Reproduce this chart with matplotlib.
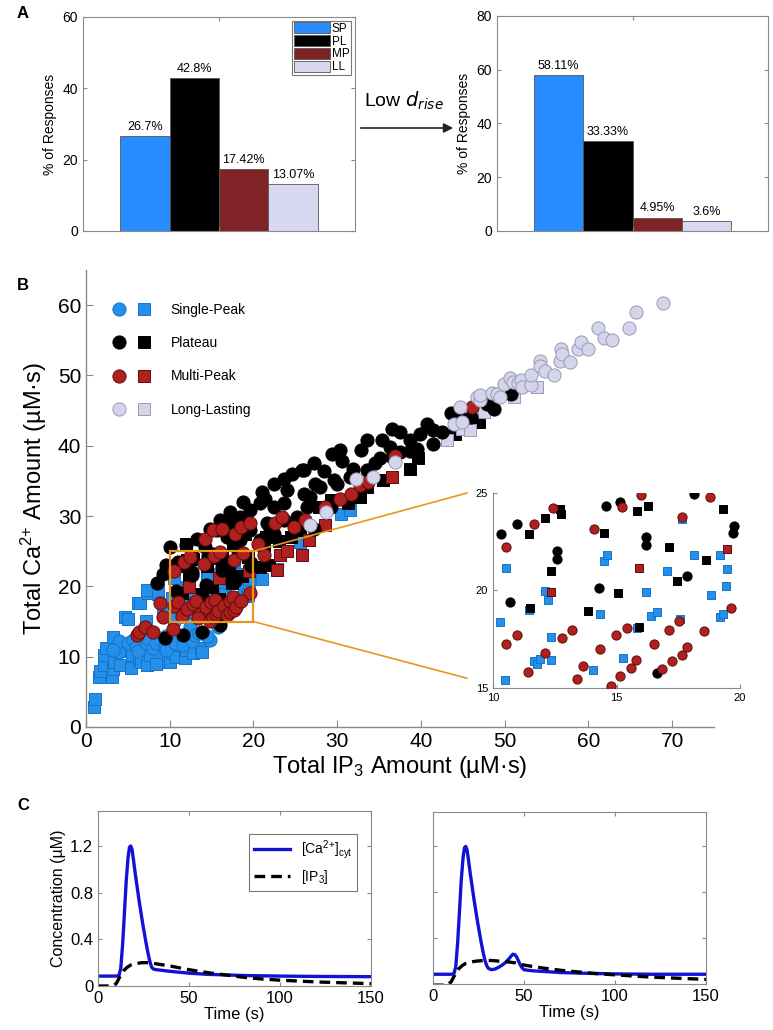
import numpy as np
import matplotlib
matplotlib.use('Agg')
import matplotlib.pyplot as plt
from matplotlib.lines import Line2D
from matplotlib.patches import Patch, Rectangle, ConnectionPatch
from matplotlib.legend_handler import HandlerTuple

plt.rcParams['font.family'] = ['Liberation Sans', 'DejaVu Sans']
plt.rcParams['mathtext.default'] = 'regular'

# ---------------- Panel A data ----------------
categories = ['SP', 'PL', 'MP', 'LL']
pct_before = [26.7, 42.8, 17.42, 13.07]
pct_after = [58.11, 33.33, 4.95, 3.6]
labels_before = ['26.7%', '42.8%', '17.42%', '13.07%']
labels_after = ['58.11%', '33.33%', '4.95%', '3.6%']

# ---------------- Panel B data (x = IP3, y = Ca) ----------------
sp_circles = [(4.0, 10.7), (4.0, 12.3), (5.0, 12.0), (5.6, 12.4), (6.0, 11.4), (6.2, 10.8),
              (7.2, 12.0), (7.3, 12.6), (8.0, 11.3), (8.4, 12.0), (9.4, 11.8), (9.6, 10.9),
              (9.6, 13.0), (10.6, 12.0), (11.6, 12.5), (11.6, 11.6), (12.4, 14.2), (12.7, 12.3),
              (13.0, 13.1), (13.5, 13.4), (14.8, 12.4), (15.8, 14.2), (14.4, 13.0), (3.2, 10.9)]
sp_squares = [(0.9, 2.9), (1.1, 4.0), (1.6, 7.1), (1.7, 7.9), (2.1, 8.8), (2.2, 10.3), (2.4, 11.3),
              (3.1, 7.1), (3.2, 8.2), (3.3, 9.3), (3.2, 12.8), (4.1, 8.8), (4.0, 10.8), (4.7, 15.7),
              (5.0, 15.3), (5.4, 8.4), (5.5, 10.3), (6.2, 17.7), (6.3, 9.5), (6.5, 17.6), (6.6, 9.2),
              (7.2, 15.1), (7.3, 8.8), (7.4, 19.1), (7.3, 19.5), (7.7, 10.2), (8.4, 9.0), (8.6, 19.8),
              (8.6, 18.9), (8.8, 10.7), (9.2, 17.0), (9.8, 9.3), (10.0, 9.2), (10.4, 10.7), (10.8, 9.9),
              (11.8, 9.8), (12.0, 10.9), (12.8, 10.5), (13.7, 11.3), (13.9, 10.6), (21.0, 21.0),
              (22.8, 22.5), (25.6, 26.3), (30.5, 30.3), (31.5, 30.8),
              (10.53, 21.17), (10.28, 18.39), (10.48, 15.39), (12.10, 19.97), (12.24, 19.50),
              (11.44, 19.02), (12.36, 17.59), (11.67, 16.40), (11.79, 16.24), (11.89, 16.50),
              (12.35, 16.43), (14.35, 18.82), (14.49, 21.49), (14.62, 21.80), (16.19, 19.94),
              (15.85, 18.08), (15.26, 16.55), (14.03, 15.92), (16.39, 18.68), (16.64, 18.90),
              (17.05, 21.00), (17.59, 18.53), (17.64, 23.65), (18.13, 21.80), (18.83, 19.79),
              (19.18, 21.80), (19.43, 20.25), (19.47, 21.12), (19.20, 18.63), (19.33, 18.78)]
pl_circles = [(9.4, 12.6), (11.6, 13.1), (13.8, 13.5), (16.0, 14.5), (8.5, 20.5), (9.2, 21.8),
              (9.6, 23.0), (10.0, 25.6), (12.0, 25.9), (13.2, 26.8), (14.2, 25.6), (14.8, 28.2),
              (15.6, 28.0), (16.0, 29.4), (16.8, 27.0), (17.2, 30.6), (17.2, 29.0), (18.4, 29.9),
              (18.4, 26.6), (18.8, 32.0), (19.6, 30.8), (19.6, 28.0), (20.8, 31.8), (20.8, 26.6),
              (21.0, 33.4), (21.4, 32.5), (21.6, 29.0), (22.0, 28.2), (22.4, 34.6), (22.4, 31.3),
              (22.4, 27.5), (23.6, 35.3), (23.6, 31.8), (23.6, 29.4), (24.0, 33.7), (24.6, 36.0),
              (25.2, 29.9), (25.8, 36.5), (26.0, 33.2), (26.0, 36.6), (26.4, 31.3), (26.8, 32.7),
              (27.2, 37.5), (27.2, 28.2), (27.4, 34.6), (28.0, 34.1), (28.4, 36.4), (29.2, 31.3),
              (29.4, 38.9), (29.6, 35.1), (30.0, 34.6), (30.3, 39.4), (30.6, 37.9), (31.5, 35.6),
              (31.9, 36.7), (32.9, 39.4), (33.5, 40.8), (33.5, 36.5), (34.5, 37.5), (35.1, 38.2),
              (35.3, 40.8), (36.3, 39.8), (36.5, 42.4), (36.5, 38.4), (37.5, 41.9), (37.5, 39.1),
              (38.7, 40.8), (38.7, 39.3), (39.5, 39.6), (39.9, 41.7), (40.7, 43.1), (41.5, 42.2),
              (41.5, 40.3), (42.5, 41.9), (43.6, 44.6), (44.6, 44.3), (46.0, 44.1), (47.9, 46.0),
              (48.7, 45.3), (50.7, 47.3),
              (10.32, 22.89), (10.97, 23.43), (10.70, 19.40), (12.61, 22.02), (12.61, 21.64),
              (14.29, 20.14), (14.56, 24.34), (15.16, 24.56), (16.20, 22.72), (16.19, 22.33),
              (17.84, 20.76), (18.13, 24.97), (19.76, 23.31), (19.73, 22.97), (16.64, 15.75)]
pl_squares = [(20.8, 22.8), (21.2, 25.8), (21.8, 23.0), (23.0, 26.5), (24.5, 27.0), (27.8, 31.3),
              (29.2, 32.3), (31.3, 31.8), (32.7, 32.7), (33.5, 34.1), (35.5, 35.1), (38.7, 36.7),
              (39.7, 38.2), (44.1, 41.7), (46.9, 43.4), (19.0, 27.5), (17.5, 26.0), (25.5, 28.0),
              (21.5, 27.0), (12.0, 26.0),
              (11.47, 22.89), (12.09, 23.74), (12.70, 24.17), (12.74, 23.91), (12.35, 20.98),
              (11.48, 19.12), (14.51, 22.96), (13.84, 18.97), (15.05, 19.89), (15.81, 24.08),
              (16.28, 24.32), (17.13, 22.21), (17.43, 20.49), (18.63, 21.54), (19.33, 24.17),
              (15.93, 18.15)]
mp_circles = [(6.1, 13.1), (6.3, 13.5), (7.0, 14.2), (8.0, 13.5), (8.8, 17.6), (9.2, 15.6),
              (10.4, 14.0), (14.2, 26.8), (15.2, 28.0), (16.2, 28.2), (17.8, 27.5), (18.5, 28.5),
              (19.6, 29.0), (20.5, 26.0), (21.2, 24.4), (22.6, 29.0), (23.4, 29.9), (24.8, 28.5),
              (26.1, 29.5), (28.5, 31.3), (30.3, 32.5), (31.7, 33.2), (32.7, 34.4), (33.7, 34.8),
              (36.9, 38.6), (46.1, 45.5),
              (10.53, 22.24), (11.67, 23.42), (12.43, 24.23), (14.07, 23.14), (15.23, 24.27),
              (16.00, 24.91), (17.67, 23.77), (18.80, 24.81), (19.62, 19.12), (10.53, 17.28),
              (10.96, 17.72), (11.43, 15.82), (12.12, 16.81), (12.78, 17.56), (13.19, 17.95),
              (13.64, 16.14), (13.40, 15.46), (14.33, 17.01), (14.77, 15.10), (15.16, 15.60),
              (14.97, 17.71), (15.42, 18.08), (15.58, 16.01), (15.80, 16.43), (16.51, 17.28),
              (16.85, 15.97), (17.25, 16.38), (17.14, 17.98), (17.55, 18.42), (17.67, 16.69),
              (17.87, 17.08), (18.56, 17.93)]
mp_squares = [(22.8, 22.3), (23.2, 24.4), (24.0, 25.1), (25.8, 24.4), (26.6, 26.6), (28.6, 28.8),
              (36.6, 35.6),
              (12.36, 19.92), (15.92, 21.17), (19.46, 22.12)]
ll_circles = [(26.8, 28.7), (28.7, 30.6), (32.3, 35.3), (34.3, 35.6), (36.9, 37.7), (43.9, 43.1),
              (44.7, 45.5), (44.9, 43.4), (46.7, 46.9), (47.1, 46.5), (47.1, 47.2), (48.5, 47.5),
              (49.1, 47.4), (49.5, 47.0), (49.9, 48.8), (50.6, 49.7), (51.0, 49.1), (51.6, 48.9),
              (51.9, 49.4), (52.1, 48.3), (53.1, 48.6), (53.2, 50.1), (54.2, 52.0), (54.2, 51.4),
              (54.8, 50.6), (55.9, 50.0), (56.6, 52.1), (56.7, 53.8), (56.8, 53.1), (57.8, 51.9),
              (58.7, 53.8), (59.1, 54.7), (60.0, 53.8), (61.2, 56.7), (61.9, 55.3), (62.8, 55.1),
              (64.9, 56.7), (65.7, 59.0), (68.9, 60.3)]
ll_squares = [(43.1, 40.8), (44.9, 42.4), (45.9, 42.2), (47.5, 44.8), (51.1, 46.9), (53.9, 48.4)]

# ---------------- Panel C data ----------------
t_ca_left = [0, 10, 11.5, 12.5, 13.5, 14.5, 15.5, 16.5, 17.3, 18, 18.7, 19.5, 20.5, 21.5, 22.5,
             23.5, 24.5, 25.5, 26.5, 27.5, 28.5, 29.5, 30.5, 32, 40, 50, 60, 70, 80, 100, 120, 150]
ca_left = [0.085, 0.085, 0.09, 0.15, 0.35, 0.62, 0.90, 1.10, 1.19, 1.20, 1.17, 1.08, 0.96, 0.85,
           0.74, 0.64, 0.54, 0.45, 0.36, 0.28, 0.21, 0.16, 0.145, 0.14, 0.125, 0.11, 0.10, 0.095,
           0.09, 0.085, 0.082, 0.08]
t_ip3_left = [0, 8, 10, 12, 14, 16, 18, 20, 24, 28, 32, 40, 50, 60, 70, 80, 90, 100, 120, 150]
ip3_left = [0, 0, 0.02, 0.08, 0.13, 0.16, 0.18, 0.19, 0.20, 0.20, 0.19, 0.17, 0.14, 0.115, 0.095,
            0.075, 0.06, 0.05, 0.035, 0.02]
t_ca_right = [0, 10, 11.5, 12.5, 13.5, 14.5, 15.5, 16.5, 17.3, 18, 18.7, 19.5, 20.5, 21.5, 22.5,
              23.5, 24.5, 25.5, 26.5, 27.5, 28.5, 29.5, 30.5, 32, 34, 36, 38, 40, 42, 43, 44, 45,
              46, 47, 48, 49, 50, 52, 55, 60, 70, 80, 100, 120, 150]
ca_right = [0.085, 0.085, 0.09, 0.15, 0.35, 0.62, 0.90, 1.10, 1.19, 1.20, 1.17, 1.08, 0.96, 0.85,
            0.74, 0.64, 0.54, 0.45, 0.36, 0.28, 0.21, 0.16, 0.135, 0.125, 0.13, 0.145, 0.165, 0.19,
            0.225, 0.245, 0.26, 0.255, 0.235, 0.2, 0.165, 0.14, 0.125, 0.12, 0.115, 0.11, 0.1,
            0.095, 0.088, 0.085, 0.085]
t_ip3_right = [0, 8, 10, 12, 14, 16, 18, 20, 24, 28, 32, 36, 40, 45, 50, 60, 70, 80, 90, 100, 120, 150]
ip3_right = [-0.01, -0.01, 0.02, 0.08, 0.13, 0.16, 0.18, 0.19, 0.20, 0.205, 0.205, 0.20, 0.195,
             0.185, 0.165, 0.14, 0.12, 0.105, 0.09, 0.08, 0.06, 0.04]

# ---------------- Styles ----------------
bar_colors = ['#268cff', '#000000', '#7f2327', '#d8d8f0']
c_blue, e_blue = '#2490ea', '#1673cc'
c_red, e_red = '#b0201f', '#5e0c0c'
c_ll, e_ll = '#d4d4ea', '#9a9ab8'
orange = '#e8961e'
spine_gray = '#8a8a8a'

W, H = 773, 1030
fig = plt.figure(figsize=(W / 100, H / 100), dpi=100)


def px_axes(l, t, r, b):
    return fig.add_axes([l / W, 1 - b / H, (r - l) / W, (b - t) / H])


def style_box(ax):
    for s in ax.spines.values():
        s.set_color(spine_gray)
        s.set_linewidth(0.8)
    ax.tick_params(direction='in', top=True, right=True, color=spine_gray, length=3)


# ---------------- Panel A ----------------
xpos = np.arange(1, 5)
for (l, t, r, b), vals, labs, ymax, yt in [((83, 17, 355, 231), pct_before, labels_before, 60, [0, 20, 40, 60]),
                                          ((497, 16, 768, 231), pct_after, labels_after, 80, [0, 20, 40, 60, 80])]:
    ax = px_axes(l, t, r, b)
    ax.bar(xpos, vals, width=1.0, color=bar_colors, edgecolor='#555555', linewidth=0.6)
    for xp, v, lb in zip(xpos, vals, labs):
        ax.text(xp, v + ymax * 0.015, lb, ha='center', va='bottom', fontsize=9)
    ax.set_xlim(-0.25, 5.25)
    ax.set_ylim(0, ymax)
    ax.set_yticks(yt)
    ax.set_xticks([2.5])
    ax.set_xticklabels([''])
    ax.tick_params(labelsize=10)
    ax.set_ylabel('% of Responses', fontsize=10, labelpad=4)
    style_box(ax)
    if ymax == 60:
        handles = [Patch(facecolor=c, edgecolor='#555555', linewidth=0.6) for c in bar_colors]
        leg = ax.legend(handles, categories, loc='upper right', fontsize=8.5, frameon=True,
                        fancybox=False, edgecolor='#555555', borderpad=0.15, labelspacing=0.05,
                        handlelength=3.0, handleheight=1.0, handletextpad=0.2,
                        borderaxespad=0.3)
        leg.get_frame().set_linewidth(0.8)

fig.text(17 / W, 1 - 13 / H, 'A', fontsize=12, fontweight='bold', va='center', ha='left')
fig.text(404 / W, 1 - 100 / H, r'Low $\mathit{d}_{\mathit{rise}}$', fontsize=14, ha='center', va='center')
fig.add_artist(matplotlib.patches.FancyArrowPatch((358 / W, 1 - 128 / H), (456 / W, 1 - 128 / H),
                                                  transform=fig.transFigure, arrowstyle='-|>',
                                                  mutation_scale=14, color='#222222', lw=1.2))

# ---------------- Panel B ----------------
axb = px_axes(86, 270, 714, 727)
axin = px_axes(493, 493, 740, 688)


def draw_scatter(ax, circ_scale, sq_scale):
    groups = [(sp_squares, sp_circles, c_blue, e_blue),
              (pl_squares, pl_circles, 'black', 'black'),
              (mp_squares, mp_circles, c_red, e_red),
              (ll_squares, ll_circles, c_ll, e_ll)]
    for sq, ci, fc, ec in groups:
        sq = np.array(sq)
        ci = np.array(ci)
        ax.scatter(sq[:, 0], sq[:, 1], marker='s', s=sq_scale, c=fc, edgecolors=ec, linewidths=0.7, zorder=2)
        ax.scatter(ci[:, 0], ci[:, 1], marker='o', s=circ_scale, c=fc, edgecolors=ec, linewidths=0.7, zorder=3)


draw_scatter(axb, 90, 70)
axb.set_xlim(0, 75)
axb.set_ylim(0, 65)
axb.set_xticks(np.arange(0, 71, 10))
axb.set_yticks(np.arange(0, 61, 10))
for s in ['top', 'right']:
    axb.spines[s].set_visible(False)
for s in ['left', 'bottom']:
    axb.spines[s].set_color(spine_gray)
    axb.spines[s].set_linewidth(1.0)
axb.tick_params(direction='in', labelsize=15, color=spine_gray, length=5)
axb.set_xlabel('Total IP$_3$ Amount (µM·s)', fontsize=17, labelpad=2)
axb.set_ylabel('Total Ca$^{2{+}}$ Amount (µM·s)', fontsize=17, labelpad=6)
axb.add_patch(Rectangle((10, 15), 10, 10, fill=False, ec=orange, lw=1.6, zorder=5))

leg_handles = []
for fc, ec in [(c_blue, e_blue), ('black', 'black'), (c_red, e_red), (c_ll, e_ll)]:
    leg_handles.append((Line2D([], [], ls='none', marker='o', ms=9.5, mfc=fc, mec=ec, mew=0.7),
                        Line2D([], [], ls='none', marker='s', ms=8, mfc=fc, mec=ec, mew=0.7)))
axb.legend(leg_handles, ['Single-Peak', 'Plateau', 'Multi-Peak', 'Long-Lasting'],
           handler_map={tuple: HandlerTuple(ndivide=None, pad=0.6)},
           loc='upper left', bbox_to_anchor=(0.02, 0.955), frameon=False, fontsize=10,
           labelspacing=1.38, handlelength=3.0, handletextpad=1.3)

draw_scatter(axin, 44, 36)
axin.set_xlim(10, 20)
axin.set_ylim(15, 25)
axin.set_xticks([10, 15, 20])
axin.set_yticks([15, 20, 25])
for s in ['top', 'right']:
    axin.spines[s].set_visible(False)
for s in ['left', 'bottom']:
    axin.spines[s].set_color(spine_gray)
axin.tick_params(direction='in', labelsize=8, color=spine_gray, length=3)
axin.patch.set_alpha(0)

for yb, ya in [(25, 1.0), (15, 0.05)]:
    con = ConnectionPatch(xyA=(20, yb), coordsA=axb.transData, xyB=(-0.105, ya), coordsB=axin.transAxes,
                          color=orange, lw=1.2)
    fig.add_artist(con)

fig.text(17 / W, 1 - 285 / H, 'B', fontsize=12, fontweight='bold', va='center', ha='left')

# ---------------- Panel C ----------------
for i, ((l, t, r, b), tc, cv, ti, iv) in enumerate([
        ((98, 811, 371, 986), t_ca_left, ca_left, t_ip3_left, ip3_left),
        ((433, 812, 706, 984), t_ca_right, ca_right, t_ip3_right, ip3_right)]):
    ax = px_axes(l, t, r, b)
    ax.plot(tc, cv, color='#1212d6', lw=2.4, label='[Ca$^{2{+}}$]$_{cyt}$', solid_joinstyle='round')
    ax.plot(ti, iv, color='black', lw=2.4, ls=(0, (3.2, 1.8)), label='[IP$_3$]')
    ax.set_xlim(0, 150)
    ax.set_ylim(0, 1.5)
    ax.set_xticks([0, 50, 100, 150])
    ax.set_yticks([0, 0.4, 0.8, 1.2])
    style_box(ax)
    ax.tick_params(labelsize=12)
    ax.set_xlabel('Time (s)', fontsize=12, labelpad=1)
    if i == 0:
        ax.set_yticklabels(['0', '0.4', '0.8', '1.2'])
        ax.set_ylabel('Concentration (µM)', fontsize=11.5, labelpad=3)
        leg = ax.legend(loc='upper right', bbox_to_anchor=(0.975, 0.91), fontsize=10, frameon=True,
                        fancybox=False, edgecolor='#555555', handlelength=2.6, borderpad=0.35,
                        labelspacing=0.45)
        leg.get_frame().set_linewidth(0.8)
    else:
        ax.set_yticklabels([])

fig.text(17 / W, 1 - 805 / H, 'C', fontsize=12, fontweight='bold', va='center', ha='left')

fig.savefig('out.png', dpi=100)
